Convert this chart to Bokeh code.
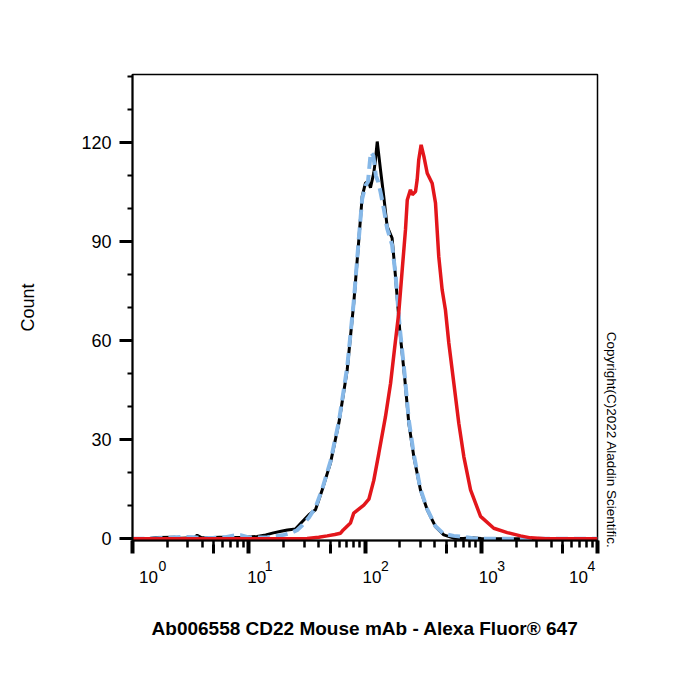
from bokeh.plotting import figure
from bokeh.models import (Range1d, LogTicker, FixedTicker, SingleIntervalTicker, Title, LogAxis,
                          CustomJSTickFormatter)
from bokeh.embed import file_html
from bokeh.resources import INLINE

# ---------------- data ----------------
black_x = [1.0, 1.4, 1.6, 2.3, 2.6, 3.4, 3.6, 3.9, 4.6, 5.6, 7.0, 9.0, 10.5, 11.8, 14.0,
           16.3, 19.0, 21.5, 25.2, 28.8, 32.9, 37.5, 42.8, 50.5, 59.6, 70.3, 80.1, 88.5, 94.6, 101,
           108, 111.5, 119, 123, 127.4, 136, 145, 155, 171, 183, 199, 219, 238, 263, 300,
           343, 404, 476, 581, 700, 809, 1000, 1465, 3000, 10000]
black_y = [0, 0.1, 0.4, 0.5, 0.2, 0.3, 1.1, 0.4, 0.3, 0.5, 0.4, 0.5, 0.6, 0.7, 1.2,
           1.8, 2.3, 2.7, 3.0, 5.2, 7.3, 8.8, 14.8, 23.0, 35.1, 51.2, 71.5, 90.6, 103.7, 107.8,
           107.9, 106.3, 110.8, 114.8, 120.3, 111.7, 103.7, 94.6, 91.1, 79.4, 63.3, 49.1, 35.1, 24.9, 14.8,
           8.8, 3.7, 1.2, 0.2, 0.1, 0.3, 0.1, 0, 0, 0]

blue_x = [1.0, 1.5, 2.0, 2.6, 3.4, 4.0, 5.0, 6.3, 7.5, 8.5, 10.0, 12.0, 14.5, 17.0, 20.0,
          23.0, 26.0, 29.0, 33.0, 37.5, 42.8, 50.5, 59.6, 70.3, 80.1, 88.5, 94.6, 101, 106, 112,
          118, 124, 130, 136, 145, 155, 171, 183, 199, 219, 238, 263, 300, 343, 404,
          476, 580, 700, 850, 1000, 10000]
blue_y = [0, 0.1, 0.3, 0.6, 0.5, 0.2, 0.3, 0.5, 1.0, 1.1, 0.4, 0.4, 0.5, 0.8, 1.2,
          1.8, 2.6, 4.2, 6.5, 9.5, 15.0, 23.5, 35.5, 52.0, 72.0, 91.0, 103.0, 107.0, 108.0, 117.0,
          116.0, 110.0, 108.0, 105.0, 100.0, 94.0, 89.0, 80.0, 64.0, 50.0, 36.0, 25.5, 15.0, 9.0, 3.8,
          1.5, 0.9, 0.6, 0.2, 0, 0]

red_x = [1.0, 20.0, 31.8, 40.0, 47.3, 55.0, 61.6, 65.0, 75.0, 80.0, 97.7, 108, 119, 131.5, 150,
         166, 179, 195, 209, 223, 231, 246, 255, 272, 281, 290, 304, 321, 343, 378,
         404, 431, 461, 492, 526, 581, 641, 708, 809, 986, 1282, 1672, 2177, 2654, 3571, 10000]
red_y = [0, 0, 0.1, 0.5, 0.9, 1.3, 1.7, 2.7, 4.8, 7.8, 10.2, 12.0, 17.7, 25.9, 37.0,
         47.1, 57.2, 68.3, 81.5, 93.6, 102.6, 105.7, 104.2, 105.2, 108.7, 114.8, 119.3, 115.8, 110.7, 107.7,
         101.7, 85.5, 75.4, 69.3, 59.3, 47.1, 35.0, 24.9, 14.8, 6.8, 3.2, 1.9, 0.9, 0.3, 0, 0]

decades = [1, 10, 100, 1000, 10000]
mid_ticks = [5, 50, 500, 5000]
decade_base = "10"
decade_exponents = ["0", "1", "2", "3", "4"]
y_tick_step = 30

x_title = "Ab006558 CD22 Mouse mAb - Alexa Fluor\u00ae 647"
y_title = "Count"
copyright_text = "Copyright(C)2022 Aladdin Scientific."

# ---------------- layout / style ----------------
FONT = "Liberation Sans"
FRAME_W = 465
PX_PER_DECADE = FRAME_W / 4.0
# horizontal placement (px, relative to each decade tick) of the "10" and of its exponent
base_nudge = [16, 8, 7, 7, -19]
exp_nudge = [30, 20, 20, 20, -6]

p = figure(width=700, height=700, x_axis_type="log",
           x_range=Range1d(decades[0], decades[-1]), y_range=Range1d(-0.5, 140.6),
           output_backend="svg", toolbar_location=None,
           min_border_left=132, min_border_right=103, min_border_top=74, min_border_bottom=160)

p.background_fill_color = "white"
p.border_fill_color = "white"
p.outline_line_color = "black"
p.outline_line_width = 1.5
p.xgrid.visible = False
p.ygrid.visible = False

# main x axis: decade + minor ticks only
xa = p.xaxis[0]
xa.ticker = LogTicker(num_minor_ticks=10)
xa.major_label_overrides = {d: "" for d in decades}
xa.major_label_text_font_size = "1px"
xa.major_label_standoff = -4
xa.axis_line_width = 2
xa.axis_line_color = "black"
xa.major_tick_in = 0
xa.major_tick_out = 13
xa.major_tick_line_width = 4
xa.minor_tick_in = 0
xa.minor_tick_out = 7
xa.minor_tick_line_width = 2.5


def bare_axis(ticks, labels, size, standoff):
    ax = LogAxis(ticker=FixedTicker(ticks=ticks, minor_ticks=[]),
                 formatter=CustomJSTickFormatter(args=dict(labels=labels),
                                                 code="return labels[index]"))
    ax.major_label_text_font = FONT
    ax.major_label_text_font_size = size
    ax.major_label_text_color = "black"
    ax.major_label_standoff = standoff
    ax.axis_line_color = None
    ax.major_tick_line_color = None
    ax.minor_tick_line_color = None
    ax.major_tick_in = 0
    ax.major_tick_out = 0
    ax.minor_tick_in = 0
    ax.minor_tick_out = 0
    return ax


# medium ticks at 5 x 10^k (reaching up to the axis line)
mid_axis = bare_axis(mid_ticks, [""] * len(mid_ticks), "1px", -1)
mid_axis.major_tick_line_color = "black"
mid_axis.major_tick_line_width = 3
mid_axis.major_tick_in = 9


def label_axis(texts, nudges, size, standoff):
    pos = [d * 10 ** (n / PX_PER_DECADE) for d, n in zip(decades, nudges)]
    return bare_axis(pos, texts, size, standoff)


exp_axis = label_axis(decade_exponents, exp_nudge, "14px", 7)
base_axis = label_axis([decade_base] * len(decades), base_nudge, "17px", -3)
base_axis.axis_label = x_title
base_axis.axis_label_text_font = FONT
base_axis.axis_label_text_font_size = "19px"
base_axis.axis_label_text_font_style = "bold"
base_axis.axis_label_text_color = "black"
base_axis.axis_label_standoff = 32
p.add_layout(mid_axis, "below")
p.add_layout(exp_axis, "below")
p.add_layout(base_axis, "below")

# y axis
ya = p.yaxis[0]
ya.ticker = SingleIntervalTicker(interval=y_tick_step, num_minor_ticks=3)
ya.axis_line_width = 2
ya.axis_line_color = "black"
ya.major_tick_in = 0
ya.major_tick_out = 13
ya.major_tick_line_width = 3
ya.minor_tick_in = 0
ya.minor_tick_out = 5
ya.minor_tick_line_width = 2
ya.major_label_text_font = FONT
ya.major_label_text_font_size = "18px"
ya.major_label_text_color = "black"
ya.major_label_standoff = 8
ya.axis_label = y_title
ya.axis_label_text_font = FONT
ya.axis_label_text_font_size = "18px"
ya.axis_label_text_font_style = "normal"
ya.axis_label_text_color = "black"
ya.axis_label_standoff = 40

# curves
p.line(black_x, black_y, line_color="black", line_width=3)
p.line(blue_x, blue_y, line_color="#86b8e8", line_width=4, line_dash="12 6")
p.line(red_x, red_y, line_color="#e3161b", line_width=3.5)

# copyright, vertical at the right of the frame, reading downward
p.add_layout(Title(text=copyright_text, align="right", vertical_align="bottom",
                   offset=-8, standoff=12, text_font=FONT, text_font_size="13.5px",
                   text_font_style="normal", text_color="black"), "right")

open("out.html", "w").write(file_html(p, INLINE))
